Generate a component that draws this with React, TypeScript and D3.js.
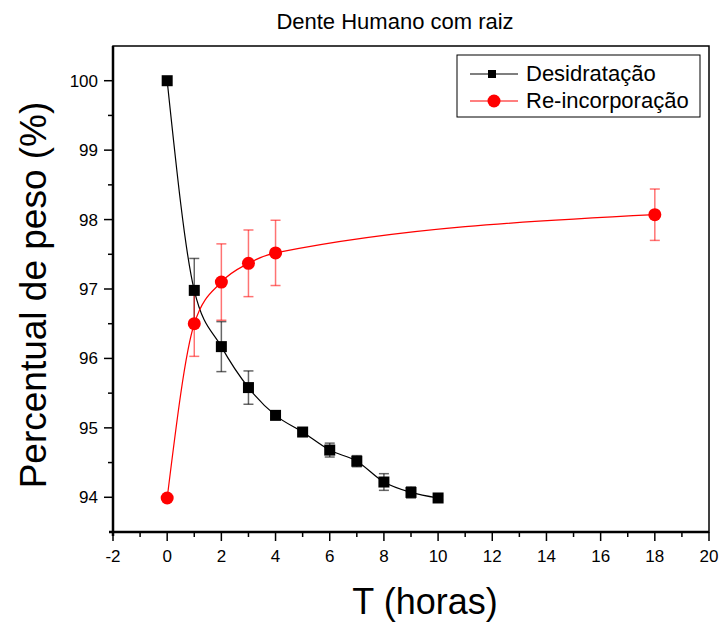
import React from "react";
import * as d3 from "d3";

const xTicks = [-2, 0, 2, 4, 6, 8, 10, 12, 14, 16, 18, 20];
const yTicks = [94, 95, 96, 97, 98, 99, 100];

const desX = [0, 1, 2, 3, 4, 5, 6, 7, 8, 9, 10];
const desY = [100, 96.98, 96.17, 95.58, 95.18, 94.94, 94.68, 94.52, 94.22, 94.07, 93.99];
const desErr = [0, 0.46, 0.36, 0.24, 0.05, 0.03, 0.1, 0.08, 0.12, 0.08, 0.03];

const reX = [0, 1, 2, 3, 4, 18];
const reY = [93.99, 96.5, 97.1, 97.37, 97.52, 98.07];
const reErr = [0.03, 0.47, 0.55, 0.48, 0.47, 0.37];

const W = 720, H = 626;
const L = 113, R = 709, T = 46, B = 532;

export default function App() {
  const x = d3.scaleLinear().domain([-2, 20]).range([L, R]);
  const y = d3.scaleLinear().domain([93.5, 100.5]).range([B, T]);
  const line = d3.line<[number, number]>().x(d => x(d[0])).y(d => y(d[1])).curve(d3.curveMonotoneX);
  const desPts = desX.map((v, i) => [v, desY[i]] as [number, number]);
  const rePts = reX.map((v, i) => [v, reY[i]] as [number, number]);
  const xMinor = d3.range(-1, 20, 2);
  const yMinor = d3.range(94.5, 100.5, 1);
  const font = "Arial, 'Liberation Sans', sans-serif";
  const errBar = (cx: number, cy: number, e: number, color: string, key: string) => {
    if (e <= 0) return null;
    const x0 = x(cx), y0 = y(cy - e), y1 = y(cy + e);
    return (
      <g key={key} stroke={color} strokeWidth={1.5}>
        <line x1={x0} x2={x0} y1={y0} y2={y1} />
        <line x1={x0 - 5} x2={x0 + 5} y1={y0} y2={y0} />
        <line x1={x0 - 5} x2={x0 + 5} y1={y1} y2={y1} />
      </g>
    );
  };
  return (
    <svg width={W} height={H} style={{ position: "absolute", left: 0, top: 0 }} fontFamily={font}>
      <rect width={W} height={H} fill="white" />
      <text x={395} y={29} fontSize={22} textAnchor="middle">Dente Humano com raiz</text>
      {/* frame */}
      <rect x={L} y={T} width={R - L} height={B - T} fill="none" stroke="black" strokeWidth={1.5} />
      <line x1={L} x2={L} y1={T} y2={B + 4} stroke="black" strokeWidth={2.5} />
      <line x1={L - 4} x2={R} y1={B} y2={B} stroke="black" strokeWidth={2.5} />
      {/* x ticks */}
      {xTicks.map(t => (
        <g key={"xt" + t}>
          <line x1={x(t)} x2={x(t)} y1={B} y2={B + 9} stroke="black" strokeWidth={1.5} />
          <text x={x(t)} y={B + 30} fontSize={17} textAnchor="middle">{t}</text>
        </g>
      ))}
      {xMinor.map(t => (
        <line key={"xm" + t} x1={x(t)} x2={x(t)} y1={B} y2={B + 5} stroke="black" strokeWidth={1.5} />
      ))}
      {/* y ticks */}
      {yTicks.map(t => (
        <g key={"yt" + t}>
          <line x1={L - 9} x2={L} y1={y(t)} y2={y(t)} stroke="black" strokeWidth={1.5} />
          <text x={L - 15} y={y(t) + 6} fontSize={17} textAnchor="end">{t}</text>
        </g>
      ))}
      {yMinor.map(t => (
        <line key={"ym" + t} x1={L - 5} x2={L} y1={y(t)} y2={y(t)} stroke="black" strokeWidth={1.5} />
      ))}
      <text x={425} y={614} fontSize={36} textAnchor="middle">T (horas)</text>
      <text transform={`translate(46,295) rotate(-90)`} fontSize={37} textAnchor="middle">Percentual de peso (%)</text>
      {/* lines */}
      <path d={line(desPts) || ""} fill="none" stroke="black" strokeWidth={1.2} />
      <path d={line(rePts) || ""} fill="none" stroke="red" strokeWidth={1.2} />
      {/* error bars */}
      {desX.map((v, i) => errBar(v, desY[i], desErr[i], "rgba(0,0,0,0.6)", "de" + i))}
      {reX.map((v, i) => errBar(v, reY[i], reErr[i], "rgba(255,0,0,0.55)", "re" + i))}
      {/* markers */}
      {desX.map((v, i) => (
        <rect key={"dm" + i} x={x(v) - 5.5} y={y(desY[i]) - 5.5} width={11} height={11} fill="black" />
      ))}
      {reX.map((v, i) => (
        <circle key={"rm" + i} cx={x(v)} cy={y(reY[i])} r={6.5} fill="red" />
      ))}
      {/* legend */}
      <rect x={457} y={55} width={243} height={62} fill="white" stroke="black" strokeWidth={1} />
      <line x1={470} x2={518} y1={74} y2={74} stroke="black" strokeWidth={1.2} />
      <rect x={488} y={70} width={8} height={8} fill="black" />
      <text x={526} y={81} fontSize={22}>Desidratação</text>
      <line x1={470} x2={518} y1={101} y2={101} stroke="red" strokeWidth={1.2} />
      <circle cx={494} cy={101} r={6.5} fill="red" />
      <text x={526} y={108} fontSize={22}>Re-incorporação</text>
    </svg>
  );
}
